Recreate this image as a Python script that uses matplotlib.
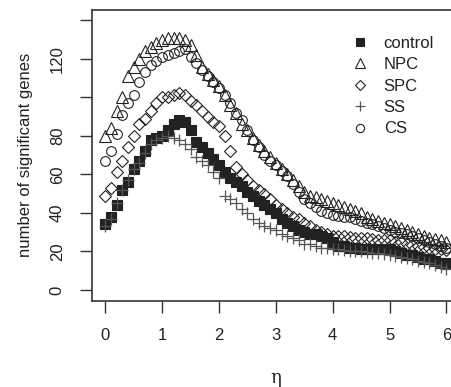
import numpy as np
import matplotlib
matplotlib.use("Agg")
import matplotlib.pyplot as plt

eta = [round(0.1 * i, 1) for i in range(61)]

control = [34, 38, 44, 52, 56, 63, 67, 72, 78, 79,
           80, 83, 86, 88, 87, 83, 77, 74, 71, 68,
           65, 61, 58, 56, 54, 51, 49, 46, 44, 42,
           40, 37, 35, 33, 31, 30, 29, 29, 28, 27,
           25, 23, 23, 22, 22, 21, 21, 21, 21, 21,
           21, 20, 19, 18, 18, 17, 16, 16, 15, 14, 14]

npc = [80, 84, 93, 100, 111, 116, 120, 124, 126, 128,
       130, 131, 131, 131, 130, 127, 122, 116, 112, 109,
       106, 101, 96, 92, 86, 83, 79, 75, 72, 69,
       66, 63, 60, 57, 54, 51, 49, 48, 47, 46,
       45, 44, 43, 42, 41, 40, 38, 37, 36, 35,
       34, 33, 32, 31, 30, 29, 28, 27, 26.5, 26, 25]

spc = [49, 53, 61, 67, 74, 80, 86, 89, 93, 97,
       100, 100, 101, 102, 101, 98, 96, 93, 90, 87,
       85, 80, 72, 64, 60, 57, 54, 52, 50, 47,
       44, 42, 40, 38, 37, 35, 33, 31, 30, 29,
       28, 28, 28, 27.5, 27, 27, 27, 26.5, 26, 26,
       26, 25, 25, 24, 23.5, 23, 22.5, 22, 21.5, 21, 20.5]

ss = [33, 37, 45, 52, 57, 63, 66, 71, 76, 78,
      79, 80, 79, 78, 76, 73, 69, 67, 65, 61,
      58, 49, 47, 45, 42, 40, 37, 35, 33, 32,
      31, 29, 28, 27, 26, 24, 24, 23, 22, 22,
      21, 21, 20.5, 20, 20, 20, 19.5, 19, 19, 18.5,
      18, 17.5, 17, 16.5, 16, 15, 14.5, 14, 13, 12, 11]

cs = [67, 72, 81, 91, 97, 101, 108, 113, 117, 119,
      121, 122, 123, 124, 125, 121, 118, 114, 111, 108,
      105, 101, 97, 92, 88, 83, 78, 74, 70, 67,
      65, 62, 59, 55, 51, 47, 45, 43, 41, 40,
      39, 38.5, 38, 38, 37, 36, 35, 34, 33, 32,
      31, 30, 29.5, 29, 28, 27, 26, 25, 24, 23, 22]

series_names = ["control", "NPC", "SPC", "SS", "CS"]
xticks = [0, 1, 2, 3, 4, 5, 6]
yticks = [0, 20, 40, 60, 80, 100, 120, 140]
ytick_labels = ["0", "20", "40", "60", "80", "", "120", ""]

plt.rcParams['font.family'] = ['Liberation Sans', 'DejaVu Sans']

W, H = 452, 387
fig = plt.figure(figsize=(W / 100, H / 100), dpi=100)
l, r, t, b = 91.7, 460.0, 9.5, 300.7
ax = fig.add_axes([l / W, 1 - b / H, (r - l) / W, (b - t) / H])

ink = "#222222"
ms = 7
ax.plot(eta, control, ls="none", marker="s", ms=ms - 0.5, mfc=ink, mec=ink, mew=0.8, label=series_names[0])
ax.plot(eta, npc, ls="none", marker="^", ms=ms + 1, mfc="none", mec=ink, mew=0.8, label=series_names[1])
ax.plot(eta, spc, ls="none", marker="D", ms=ms - 0.5, mfc="none", mec=ink, mew=0.8, label=series_names[2])
ax.plot(eta, ss, ls="none", marker="+", ms=ms + 2, mfc="none", mec="#555555", mew=0.9, label=series_names[3])
ax.plot(eta, cs, ls="none", marker="o", ms=ms, mfc="none", mec=ink, mew=0.8, label=series_names[4])

ax.set_xlim(-0.24, 6.24)
ax.set_ylim(-5.6, 145.6)
ax.set_xticks(xticks)
ax.set_xticklabels([str(v) for v in xticks])
ax.set_yticks(yticks)
ax.set_yticklabels(ytick_labels, rotation=90, va="center")

for s in ax.spines.values():
    s.set_color("#333333")
    s.set_linewidth(1.2)
ax.tick_params(direction="out", length=8.4, width=1.0, color="#333333",
               labelsize=12, labelcolor="#222222", pad=11)

ax.set_ylabel("number of significant genes", fontsize=12, color="#222222", labelpad=12)
ax.set_xlabel("η", fontsize=13, family=["DejaVu Serif"], color="#222222", labelpad=19)

leg = ax.legend(loc="upper left", bbox_to_anchor=(352 / W, 1 - 36 / H),
                bbox_transform=fig.transFigure, frameon=False, fontsize=12,
                handlelength=1.0, handletextpad=0.9, labelspacing=0.38,
                borderpad=0, borderaxespad=0, markerscale=0.85)
for txt in leg.get_texts():
    txt.set_color("#222222")

fig.savefig("out.png", dpi=100)
